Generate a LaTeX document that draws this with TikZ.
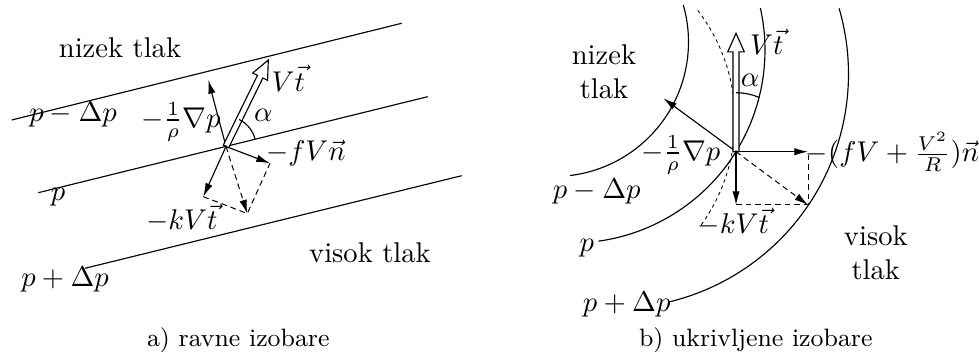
\documentclass[tikz,border=0pt]{standalone}
\usepackage{amsmath}
\usepackage{tikz}
\usetikzlibrary{arrows.meta, calc}
\newlength\headlen \setlength\headlen{6.5pt}
\newlength\headwd \setlength\headwd{2.9pt}
\newlength\shaftwd \setlength\shaftwd{1.05pt}
\tikzset{
  isobar/.style={thin},
  trajectory/.style={line width=0.3pt, dash pattern=on 1.2pt off 1.2pt},
  force/.style={thin, -{Latex[length=4.8pt,width=2.6pt]}},
  helper/.style={line width=0.35pt, dash pattern=on 2pt off 1.4pt},
  helperforce/.style={helper, -{Latex[length=4.8pt,width=2.6pt]}},
  hollow/.style={thin, fill=white},
  lbl/.style={inner sep=1pt, align=center},
  caption/.style={inner sep=1pt, font=\fontsize{8.8}{10}\selectfont}
}
% hollow (double) arrow from #1 to #2
\newcommand\hollowarrow[2]{%
  \coordinate (hb) at ($(#2)!\headlen!(#1)$);
  \draw[hollow] ($(#1)!\shaftwd!90:(#2)$) -- ($(hb)!\shaftwd!90:(#2)$)
    -- ($(hb)!\headwd!90:(#2)$) -- (#2) -- ($(hb)!\headwd!-90:(#2)$)
    -- ($(hb)!\shaftwd!-90:(#2)$) -- ($(#1)!\shaftwd!-90:(#2)$) -- cycle;
}

\begin{document}
\begin{tikzpicture}[x=0.35pt, y=-0.35pt]
\useasboundingbox (0,0) rectangle (979,352);

% a) straight isobars
\coordinate (top-w) at (11.7,120);  \coordinate (top-e) at (401.7,23.3);
\coordinate (mid-w) at (38.3,192.7); \coordinate (mid-e) at (427.7,96.7);
\coordinate (bot-w) at (85,268.3);   \coordinate (bot-e) at (461.7,175.7);
\draw[isobar] (top-w) -- (top-e);
\draw[isobar] (mid-w) -- (mid-e);
\draw[isobar] (bot-w) -- (bot-e);

\coordinate (o1) at (226,146.5);
\coordinate (g1) at (208.3,80);
\coordinate (v1) at (268.3,60);
\coordinate (n1) at (270,163.3);
\coordinate (k1) at (203.3,196.7);
\coordinate (r1) at ($(k1)+(n1)-(o1)$);

\draw[helper] (k1) -- (r1) -- (n1);
\draw[helperforce] (o1) -- (r1);
\draw[force] (o1) -- (g1);
\draw[force] (o1) -- (n1);
\draw[force] (o1) -- (k1);
\hollowarrow{o1}{v1}
\draw[thin] (o1) ++(-13.8:30) arc[start angle=-13.8, end angle=-64, radius=30];
\fill (o1) circle[radius=1.3];

\node[lbl] (low1) at (120,48) {nizek tlak};
\node[lbl] (pm1) at (73,115) {$p-\Delta p$};
\node[lbl] (p1) at (58,197) {$p$};
\node[lbl] (pp1) at (65,280) {$p+\Delta p$};
\node[lbl] (high1) at (370,253) {visok tlak};
\node[lbl] (grad1) at (181,122) {$-\frac{1}{\rho}\nabla p$};
\node[lbl] (alpha1) at (263.3,115) {$\alpha$};
\node[lbl] (vel1) at (288.3,78.3) {$V\vec t$};
\node[lbl] (cor1) at (305.8,153.3) {$-fV\vec n$};
\node[lbl] (fr1) at (181.7,218) {$-kV\vec t$};
\node[caption] (cap1) at (238.3,340) {a) ravne izobare};

% b) curved isobars
\coordinate (c-in) at (554,42);
\coordinate (c-mid) at (572,50);
\coordinate (c-out) at (614,74);
\coordinate (c-traj) at (555,120);
\draw[isobar] (c-in) ++(-16:134.5) arc[start angle=-16, end angle=83.1, radius=134.5];
\draw[isobar] (c-mid) ++(-12.55:193) arc[start angle=-12.55, end angle=82.1, radius=193];
\draw[isobar] (c-out) ++(-16.26:234.5) arc[start angle=-16.26, end angle=76.6, radius=234.5];
\draw[trajectory] (c-traj) ++(-37.5:180) arc[start angle=-37.5, end angle=35.6, radius=180];

\coordinate (o2) at ($(c-mid)+(31.8:193)$);
\coordinate (g2) at (663.3,98.3);
\coordinate (v2) at ($(o2)+(0,-118.4)$);
\coordinate (k2) at ($(o2)+(0,53.3)$);
\coordinate (n2) at ($(o2)+(72,0)$);
\coordinate (r2) at ($(k2)+(n2)-(o2)$);

\draw[helper] (k2) -- (r2) -- (n2);
\draw[helperforce] (o2) -- (r2);
\draw[force] (o2) -- (g2);
\draw[force] (o2) -- (n2);
\draw[force] (o2) -- (k2);
\hollowarrow{o2}{v2}
\draw[thin] (o2) ++(-90:59) arc[start angle=-90, end angle=-67, radius=59];
\fill (o2) circle[radius=1.5];

\node[lbl] (low2) at (604,72) {nizek\\tlak};
\node[lbl] (pm2) at (596.7,191.7) {$p-\Delta p$};
\node[lbl] (p2) at (586.7,248.3) {$p$};
\node[lbl] (pp2) at (626.7,305) {$p+\Delta p$};
\node[lbl] (high2) at (875.8,252.5) {visok\\tlak};
\node[lbl] (grad2) at (680.8,155) {$-\frac{1}{\rho}\nabla p$};
\node[lbl] (alpha2) at (750,80) {$\alpha$};
\node[lbl] (vel2) at (766.7,41.7) {$V\vec t$};
\node[lbl] (cor2) at (892.5,152) {$-(fV+\frac{V^2}{R})\vec n$};
\node[lbl] (fr2) at (733.3,221.7) {$-kV\vec t$};
\node[caption] (cap2) at (755.8,340) {b) ukrivljene izobare};
\end{tikzpicture}
\end{document}
